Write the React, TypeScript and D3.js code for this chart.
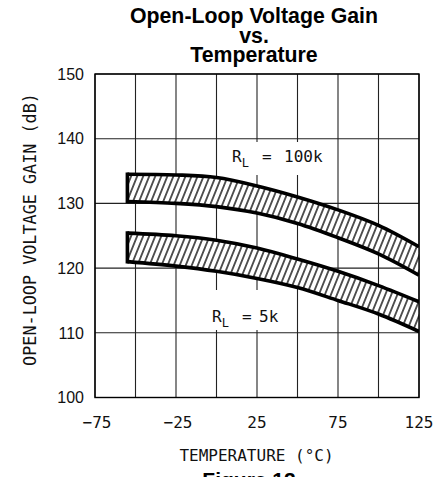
import React from "react";
import * as d3 from "d3";

const temps = [-55, -25, 0, 25, 50, 75, 100, 125];
const upperTop = [134.5, 134.4, 134.0, 132.7, 131.0, 129.0, 126.6, 123.3];
const upperBottom = [130.3, 130.0, 129.5, 128.5, 126.9, 124.7, 122.2, 118.9];
const lowerTop = [125.4, 125.0, 124.3, 123.1, 121.4, 119.5, 117.3, 114.8];
const lowerBottom = [121.0, 120.3, 119.5, 118.4, 117.0, 115.0, 112.9, 110.2];

const xTicks = [-75, -25, 25, 75, 125];
const xGrid = [-75, -50, -25, 0, 25, 50, 75, 100, 125];
const yTicks = [100, 110, 120, 130, 140, 150];

const titleLines = ["Open-Loop Voltage Gain", "vs.", "Temperature"];

const W = 445;
const H = 477;
const L = 95, R = 419, T = 74, B = 397.5;

const MONO = "'DejaVu Sans Mono', monospace";
const SANS = "'Liberation Sans', Arial, sans-serif";

export default function App() {
  const x = d3.scaleLinear().domain([-75, 125]).range([L, R]);
  const y = d3.scaleLinear().domain([100, 150]).range([B, T]);
  const curve = d3.curveCatmullRom.alpha(0.5);

  const band = (top: number[], bot: number[]) => {
    const pts = temps.map((t, i) => ({ t, a: top[i], b: bot[i] }));
    const area = d3
      .area<any>()
      .x((d) => x(d.t))
      .y0((d) => y(d.b))
      .y1((d) => y(d.a))
      .curve(curve)(pts) as string;
    const topLine = d3
      .line<any>()
      .x((d) => x(d.t))
      .y((d) => y(d.a))
      .curve(curve)(pts) as string;
    const botLine = d3
      .line<any>()
      .x((d) => x(d.t))
      .y((d) => y(d.b))
      .curve(curve)(pts) as string;
    const leftEdge = `M${x(temps[0])},${y(top[0])}L${x(temps[0])},${y(bot[0])}`;
    return { area, topLine, botLine, leftEdge };
  };

  const bands = [band(upperTop, upperBottom), band(lowerTop, lowerBottom)];

  return (
    <svg
      width={W}
      height={H}
      style={{ position: "absolute", left: 0, top: 0, background: "#fff" }}
    >
      <defs>
        <pattern
          id="hatch"
          patternUnits="userSpaceOnUse"
          width={5.6}
          height={20}
          patternTransform="rotate(22)"
        >
          <line x1={2.8} y1={-2} x2={2.8} y2={22} stroke="#000" strokeWidth={1.3} />
        </pattern>
        <clipPath id="plot">
          <rect x={L} y={T} width={R - L} height={B - T} />
        </clipPath>
      </defs>
      <rect x={0} y={0} width={W} height={H} fill="#fff" />

      {/* title */}
      {titleLines.map((t, i) => (
        <text
          key={t}
          x={254}
          y={23 + i * 19.5}
          textAnchor="middle"
          fontFamily={SANS}
          fontWeight="bold"
          fontSize={21.3}
        >
          {t}
        </text>
      ))}

      {/* grid */}
      {xGrid.map((v) => (
        <line key={"gx" + v} x1={x(v)} x2={x(v)} y1={T} y2={B} stroke="#222" strokeWidth={1.1} />
      ))}
      {yTicks.map((v) => (
        <line key={"gy" + v} x1={L} x2={R} y1={y(v)} y2={y(v)} stroke="#222" strokeWidth={1.1} />
      ))}

      {/* label background boxes */}
      <rect x={221} y={142} width={94} height={33} fill="#fff" />
      <rect x={205} y={290} width={86} height={40} fill="#fff" />

      {/* bands */}
      <g clipPath="url(#plot)">
        {bands.map((b, i) => (
          <g key={i}>
            <path d={b.area} fill="#fff" />
            <path d={b.area} fill="url(#hatch)" />
            <path d={b.topLine} fill="none" stroke="#000" strokeWidth={3.6} />
            <path d={b.botLine} fill="none" stroke="#000" strokeWidth={3.6} />
            <path d={b.leftEdge} fill="none" stroke="#000" strokeWidth={3.6} strokeLinecap="square" />
          </g>
        ))}
      </g>

      {/* frame */}
      <rect x={L} y={T} width={R - L} height={B - T} fill="none" stroke="#000" strokeWidth={1.4} />

      {/* y ticks */}
      {yTicks.map((v) => (
        <text
          key={"ty" + v}
          x={84}
          y={y(v)}
          dy="0.36em"
          textAnchor="end"
          fontFamily={SANS}
          fontSize={16}
          fill="#111"
        >
          {v}
        </text>
      ))}

      {/* x ticks */}
      {xTicks.map((v) => (
        <text
          key={"tx" + v}
          x={x(v) + (v < 0 ? 2 : 0)}
          y={428}
          textAnchor="middle"
          fontFamily={MONO}
          fontSize={16}
          fill="#111"
        >
          {v < 0 ? "\u2212" + Math.abs(v) : String(v)}
        </text>
      ))}

      {/* axis titles */}
      <text
        x={256.5}
        y={460.5}
        textAnchor="middle"
        fontFamily={MONO}
        fontSize={16}
        fill="#111"
      >
        TEMPERATURE (°C)
      </text>
      <text
        transform={`translate(35.5,229.5) rotate(-90)`}
        textAnchor="middle"
        fontFamily={MONO}
        fontSize={16.8}
        fill="#111"
      >
        OPEN-LOOP VOLTAGE GAIN (dB)
      </text>

      {/* band labels */}
      <text fontFamily={MONO} fontSize={16} fill="#111" y={162}>
        <tspan x={232}>R</tspan>
        <tspan fontSize={12} dy={5}>L</tspan>
        <tspan x={262} dy={-5}>=</tspan>
        <tspan x={284}>100k</tspan>
      </text>
      <text fontFamily={MONO} fontSize={16} fill="#111" y={322}>
        <tspan x={212}>R</tspan>
        <tspan fontSize={12} dy={5}>L</tspan>
        <tspan x={242} dy={-5}>=</tspan>
        <tspan x={259}>5k</tspan>
      </text>

      <text
        x={249}
        y={487}
        textAnchor="middle"
        fontFamily={SANS}
        fontWeight="bold"
        fontSize={21}
      >
        Figure 12
      </text>
    </svg>
  );
}
